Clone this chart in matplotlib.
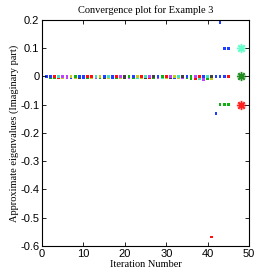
import numpy as np
import matplotlib
matplotlib.use("Agg")
import matplotlib.pyplot as plt

# Ritz values near zero: iteration, imag part, colour (top row and slightly lower row)
iters_top = list(range(1, 46))
imag_top = [0.0] * 45
col_top = ['b', 'b', 'r', 'c', 'm', 'm', 'y', 'g', 'b', 'b', 'r', 'r', 'c', 'y', 'b',
           'c', 'b', 'r', 'm', 'k', 'g', 'b', 'y', 'r', 'c', 'm', 'k', 'b', 'g', 'r',
           'm', 'y', 'c', 'k', 'b', 'g', 'm', 'r', 'b', 'c', 'k', 'b', 'b', 'b', 'r']

iters_low = list(range(2, 42))
imag_low = [-0.004] * 34 + [-0.006, -0.008, -0.008, -0.01, -0.009, -0.008]
col_low = ['g', 'g', 'r', 'y', 'm', 'b', 'y', 'k', 'b', 'g', 'y', 'm', 'g', 'k',
           'y', 'b', 'g', 'y', 'k', 'm', 'g', 'c', 'y', 'k', 'r', 'g', 'm', 'c',
           'y', 'k', 'b', 'y', 'm', 'g', 'g', 'r', 'c', 'm', 'g', 'y']

# outlying Ritz values at the last iterations
iters_out = [43, 44, 45, 43, 44, 45, 42, 41]
imag_out = [0.19, 0.1, 0.1, -0.1, -0.1, -0.1, -0.13, -0.568]
col_out = ['b', 'b', 'b', 'g', 'g', 'g', 'b', 'r']

# exact eigenvalues (imaginary parts)
exact_x = [48, 48, 48]
exact_imag = [0.1, 0.0, -0.1]
exact_col = ['#66ffcc', '#228b22', '#ff2020']

cmap = {'b': '#1f3fff', 'g': '#10b010', 'r': '#ff1010', 'c': '#40e0c0',
        'm': '#c040ff', 'y': '#c8c820', 'k': '#404040'}

fig = plt.figure(figsize=(2.77, 2.77), dpi=100)
ax = fig.add_axes([0.152, 0.112, 0.747, 0.816])

ax.scatter(iters_low, imag_low, s=4, c=[cmap[c] for c in col_low], marker='s', linewidths=0)
ax.scatter(iters_top, imag_top, s=4, c=[cmap[c] for c in col_top], marker='s', linewidths=0)
ax.scatter(iters_out, imag_out, s=4, c=[cmap[c] for c in col_out], marker='s', linewidths=0)
for x, y, c in zip(exact_x, exact_imag, exact_col):
    ax.scatter([x], [y], s=50, color=c, alpha=0.25, marker='o', linewidths=0)
    ax.scatter([x], [y], s=28, color=c, marker=(8, 2, 0), linewidths=1.0)

ax.set_xlim(0, 50)
ax.set_ylim(-0.6, 0.2)
ax.set_xticks([0, 10, 20, 30, 40, 50])
ax.set_yticks([-0.6, -0.5, -0.4, -0.3, -0.2, -0.1, 0, 0.1, 0.2])
ax.set_yticklabels(['-0.6', '-0.5', '-0.4', '-0.3', '-0.2', '-0.1', '0', '0.1', '0.2'])
ax.tick_params(direction='in', top=True, right=True, length=3, width=0.6,
               labelsize=8, pad=2)
for lab in ax.get_xticklabels() + ax.get_yticklabels():
    lab.set_family('Liberation Sans')
for s in ax.spines.values():
    s.set_linewidth(0.8)

ax.set_title("Convergence plot for Example 3", family='Liberation Serif', fontsize=7.5, pad=5)
ax.set_xlabel("Iteration Number", family='Liberation Serif', fontsize=7.5, labelpad=1)
ax.set_ylabel("Approximate eigenvalues (Imaginary part)", family='Liberation Serif',
              fontsize=7.5, labelpad=1)

fig.savefig("out.png", dpi=100)
